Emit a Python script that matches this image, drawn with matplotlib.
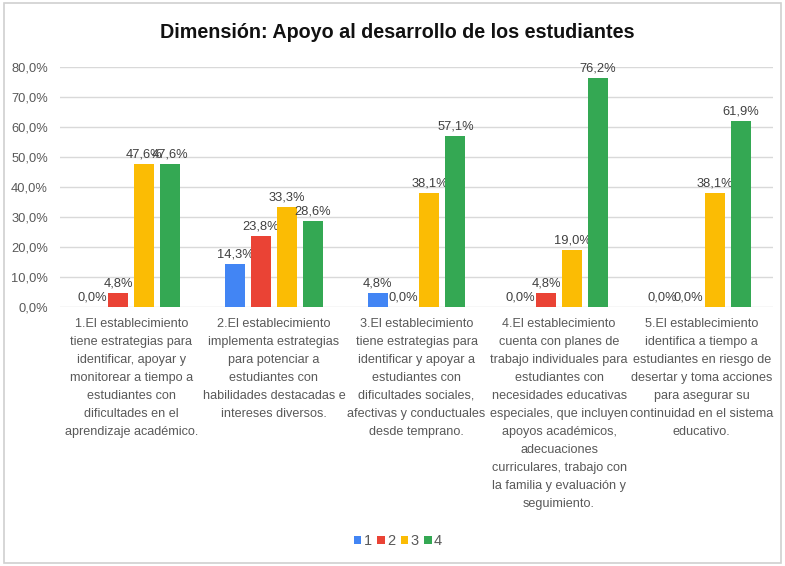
import matplotlib
matplotlib.use("Agg")
import matplotlib.pyplot as plt
from matplotlib.patches import Rectangle
import numpy as np

plt.rcParams['font.family'] = ['Liberation Sans', 'DejaVu Sans']

title = "Dimensión: Apoyo al desarrollo de los estudiantes"
categories = [
    "1.El establecimiento\ntiene estrategias para\nidentificar, apoyar y\nmonitorear a tiempo a\nestudiantes con\ndificultades en el\naprendizaje académico.",
    "2.El establecimiento\nimplementa estrategias\npara potenciar a\nestudiantes con\nhabilidades destacadas e\nintereses diversos.",
    "3.El establecimiento\ntiene estrategias para\nidentificar y apoyar a\nestudiantes con\ndificultades sociales,\nafectivas y conductuales\ndesde temprano.",
    "4.El establecimiento\ncuenta con planes de\ntrabajo individuales para\nestudiantes con\nnecesidades educativas\nespeciales, que incluyen\napoyos académicos,\nadecuaciones\ncurriculares, trabajo con\nla familia y evaluación y\nseguimiento.",
    "5.El establecimiento\nidentifica a tiempo a\nestudiantes en riesgo de\ndesertar y toma acciones\npara asegurar su\ncontinuidad en el sistema\neducativo.",
]
series_names = ["1", "2", "3", "4"]
s1 = [0.0, 14.3, 4.8, 0.0, 0.0]
s2 = [4.8, 23.8, 0.0, 4.8, 0.0]
s3 = [47.6, 33.3, 38.1, 19.0, 38.1]
s4 = [47.6, 28.6, 57.1, 76.2, 61.9]
colors = ["#4285F4", "#EA4335", "#FBBC04", "#34A853"]
yticks = [0, 10, 20, 30, 40, 50, 60, 70, 80]

fig = plt.figure(figsize=(7.85, 5.66), dpi=100)
fig.patches.append(Rectangle((4/785, 3/566), 777/785, 560/566, transform=fig.transFigure,
                             fill=False, edgecolor="#d0d0d0", linewidth=1.2))
ax = fig.add_axes([60/785, 1-307/566, 713/785, 240/566])

x = np.arange(len(categories))
step = 0.182
width = 0.14
for i, (vals, c) in enumerate(zip([s1, s2, s3, s4], colors)):
    pos = x + (i - 1.5) * step
    ax.bar(pos, vals, width=width, color=c, label=series_names[i], zorder=3)
    for xp, v in zip(pos, vals):
        ax.annotate(f"{v:.1f}%".replace(".", ","), (xp, v), xytext=(0, 2.5),
                    textcoords="offset points", ha="center", va="bottom",
                    fontsize=9.3, color="#404040")

ax.set_xlim(-0.5, 4.5)
ax.set_ylim(0, 80)
ax.set_yticks(yticks)
ax.set_yticklabels([f"{t:.1f}%".replace(".", ",") for t in yticks], fontsize=9.3, color="#595959")
ax.grid(axis="y", color="#d9d9d9", linewidth=1, zorder=0)
for s in ax.spines.values():
    s.set_visible(False)
ax.tick_params(axis="y", length=0, pad=8.6)
ax.tick_params(axis="x", length=0, pad=8)
ax.set_xticks(x)
ax.set_xticklabels(categories, fontsize=9.1, color="#595959", linespacing=1.66, ha="center", va="top")

fig.text(397/785, 1-33/566, title, ha="center", va="center", fontsize=14.2, fontweight="bold", color="#111111")

leg = fig.legend(loc="center", bbox_to_anchor=(398/785, 1-541/566), ncol=4, frameon=False,
                 fontsize=10.5, handlelength=0.5, handleheight=0.5, handletextpad=0.15,
                 columnspacing=0.4, labelcolor="#595959")

fig.savefig("out.png", dpi=100)
